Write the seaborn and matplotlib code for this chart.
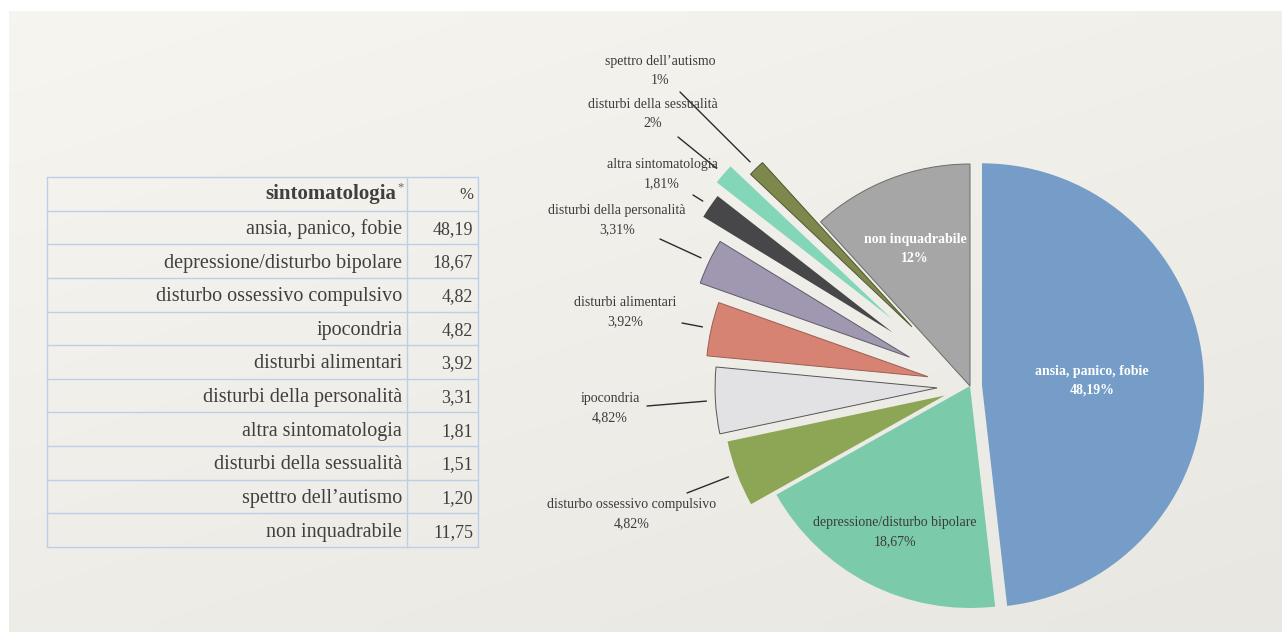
import numpy as np
import matplotlib
matplotlib.use("Agg")
import matplotlib.pyplot as plt
import seaborn as sns

# --- Data ---
categories = [
    "ansia, panico, fobie",
    "depressione/disturbo bipolare",
    "disturbo ossessivo compulsivo",
    "ipocondria",
    "disturbi alimentari",
    "disturbi della personalità",
    "altra sintomatologia",
    "disturbi della sessualità",
    "spettro dell’autismo",
    "non inquadrabile",
]
percent = [48.19, 18.67, 4.82, 4.82, 3.92, 3.31, 1.81, 1.51, 1.20, 11.75]
# percentages as printed on the pie (some are rounded on the slide)
pie_pct_labels = ["48,19%", "18,67%", "4,82%", "4,82%", "3,92%",
                  "3,31%", "1,81%", "2%", "1%", "12%"]
table_header = ["sintomatologia", "%"]

# --- Style / layout ---
W, H = 1282, 633
CX, CY, R = 970, 386, 222            # pie centre / radius in pixels (y from top)
explode_px = [12, 0, 27, 33, 43, 67, 94, 103, 83, 0]
colors = ["#769DC7", "#7BCBAB", "#8DA655", "#E2E2E5", "#D78374",
          "#A097B0", "#474749", "#84D6B9", "#7E884C", "#A6A6A6"]
edges = ["none", "none", "none", "#555555", "#9a5e52",
         "#5f5a6a", "none", "none", "#4f5530", "#6b6b6b"]
# label block centres (x, y from top) and leader-line start points
label_pos = [(1092, 381), (895, 532), (632, 514), (610, 408), (625, 312),
             (617, 220), (662, 174), (653, 114), (660, 71), (915, 249)]
leader_from = [None, None, (687, 493), (647, 406), (682, 323),
               (660, 239), (693, 195), (678, 137), (680, 92), None]
label_color = ["white", "#3b3b3b", "#3b3b3b", "#3b3b3b", "#3b3b3b",
               "#3b3b3b", "#3b3b3b", "#3b3b3b", "#3b3b3b", "white"]

sns.set_theme(style="white")
plt.rcParams["font.family"] = ["Liberation Serif", "DejaVu Serif"]


def Y(y):
    return H - y


fig = plt.figure(figsize=(W / 100, H / 100), dpi=100)
fig.patch.set_facecolor("white")
ax = fig.add_axes([0, 0, 1, 1])

# textured-paper background panel (simple diagonal gradient)
gx, gy = np.meshgrid(np.linspace(0, 1, 64), np.linspace(0, 1, 32))
g = 0.6 * gy + 0.4 * gx
top, bot = np.array([247, 245, 240]) / 255, np.array([233, 231, 226]) / 255
bg = top[None, None, :] * (1 - g[..., None]) + bot[None, None, :] * g[..., None]
ax.imshow(bg, extent=(9, W, Y(632), Y(11)), aspect="auto", zorder=0,
          interpolation="bilinear")

# --- Pie ---
wedges, _ = ax.pie(percent, explode=explode_px, colors=colors,
                   startangle=90, counterclock=False,
                   center=(CX, Y(CY)), radius=R,
                   wedgeprops=dict(linewidth=0.7))
for w, ec in zip(wedges, edges):
    w.set_edgecolor(ec)
    w.set_zorder(2)

for i, w in enumerate(wedges):
    lx, ly = label_pos[i]
    bold = label_color[i] == "white"
    ax.text(lx, Y(ly), f"{categories[i]}\n{pie_pct_labels[i]}",
            ha="center", va="center", fontsize=10, linespacing=1.55,
            color=label_color[i], fontweight="bold" if bold else "normal",
            zorder=5)
    if leader_from[i] is not None:
        mid = np.deg2rad((w.theta1 + w.theta2) / 2)
        ex = w.center[0] + (w.r + 9) * np.cos(mid)
        ey = w.center[1] + (w.r + 9) * np.sin(mid)
        sx, sy = leader_from[i]
        ax.plot([sx, ex], [Y(sy), ey], color="#2b2b2b", lw=1.0, zorder=4)

# --- Table ---
t_left, t_mid, t_right = 47, 407, 478
t_top, t_bot = 177, 547
n_rows = len(categories) + 1
row_h = (t_bot - t_top) / n_rows
line_c = "#BBD0E6"
for k in range(n_rows + 1):
    yy = Y(t_top + k * row_h)
    ax.plot([t_left, t_right], [yy, yy], color=line_c, lw=1.0, zorder=3)
for xx in (t_left, t_mid, t_right):
    ax.plot([xx, xx], [Y(t_top), Y(t_bot)], color=line_c, lw=1.0, zorder=3)

txt_c = "#3f3f3f"
hy = Y(t_top + row_h / 2 + 5.5)
ax.text(t_mid - 11, hy, table_header[0], ha="right", va="baseline",
        fontsize=15, fontweight="bold", color=txt_c, zorder=5)
ax.text(t_mid - 10, hy + 9, "*", ha="left", va="baseline",
        fontsize=9, color="#666666", zorder=5)
ax.text(t_right - 5, hy, table_header[1], ha="right", va="baseline",
        fontsize=12, color=txt_c, zorder=5)
for i, (name, v) in enumerate(zip(categories, percent)):
    yy = Y(t_top + (i + 1.5) * row_h + 6.5)
    ax.text(t_mid - 5, yy, name, ha="right", va="baseline",
            fontsize=14.5, color=txt_c, zorder=5)
    ax.text(t_right - 5, yy, f"{v:.2f}".replace(".", ","), ha="right",
            va="baseline", fontsize=13, color=txt_c, zorder=5)

ax.set_xlim(0, W)
ax.set_ylim(0, H)
ax.set_aspect("equal")
ax.axis("off")

fig.savefig("out.png", dpi=100, facecolor="white")
